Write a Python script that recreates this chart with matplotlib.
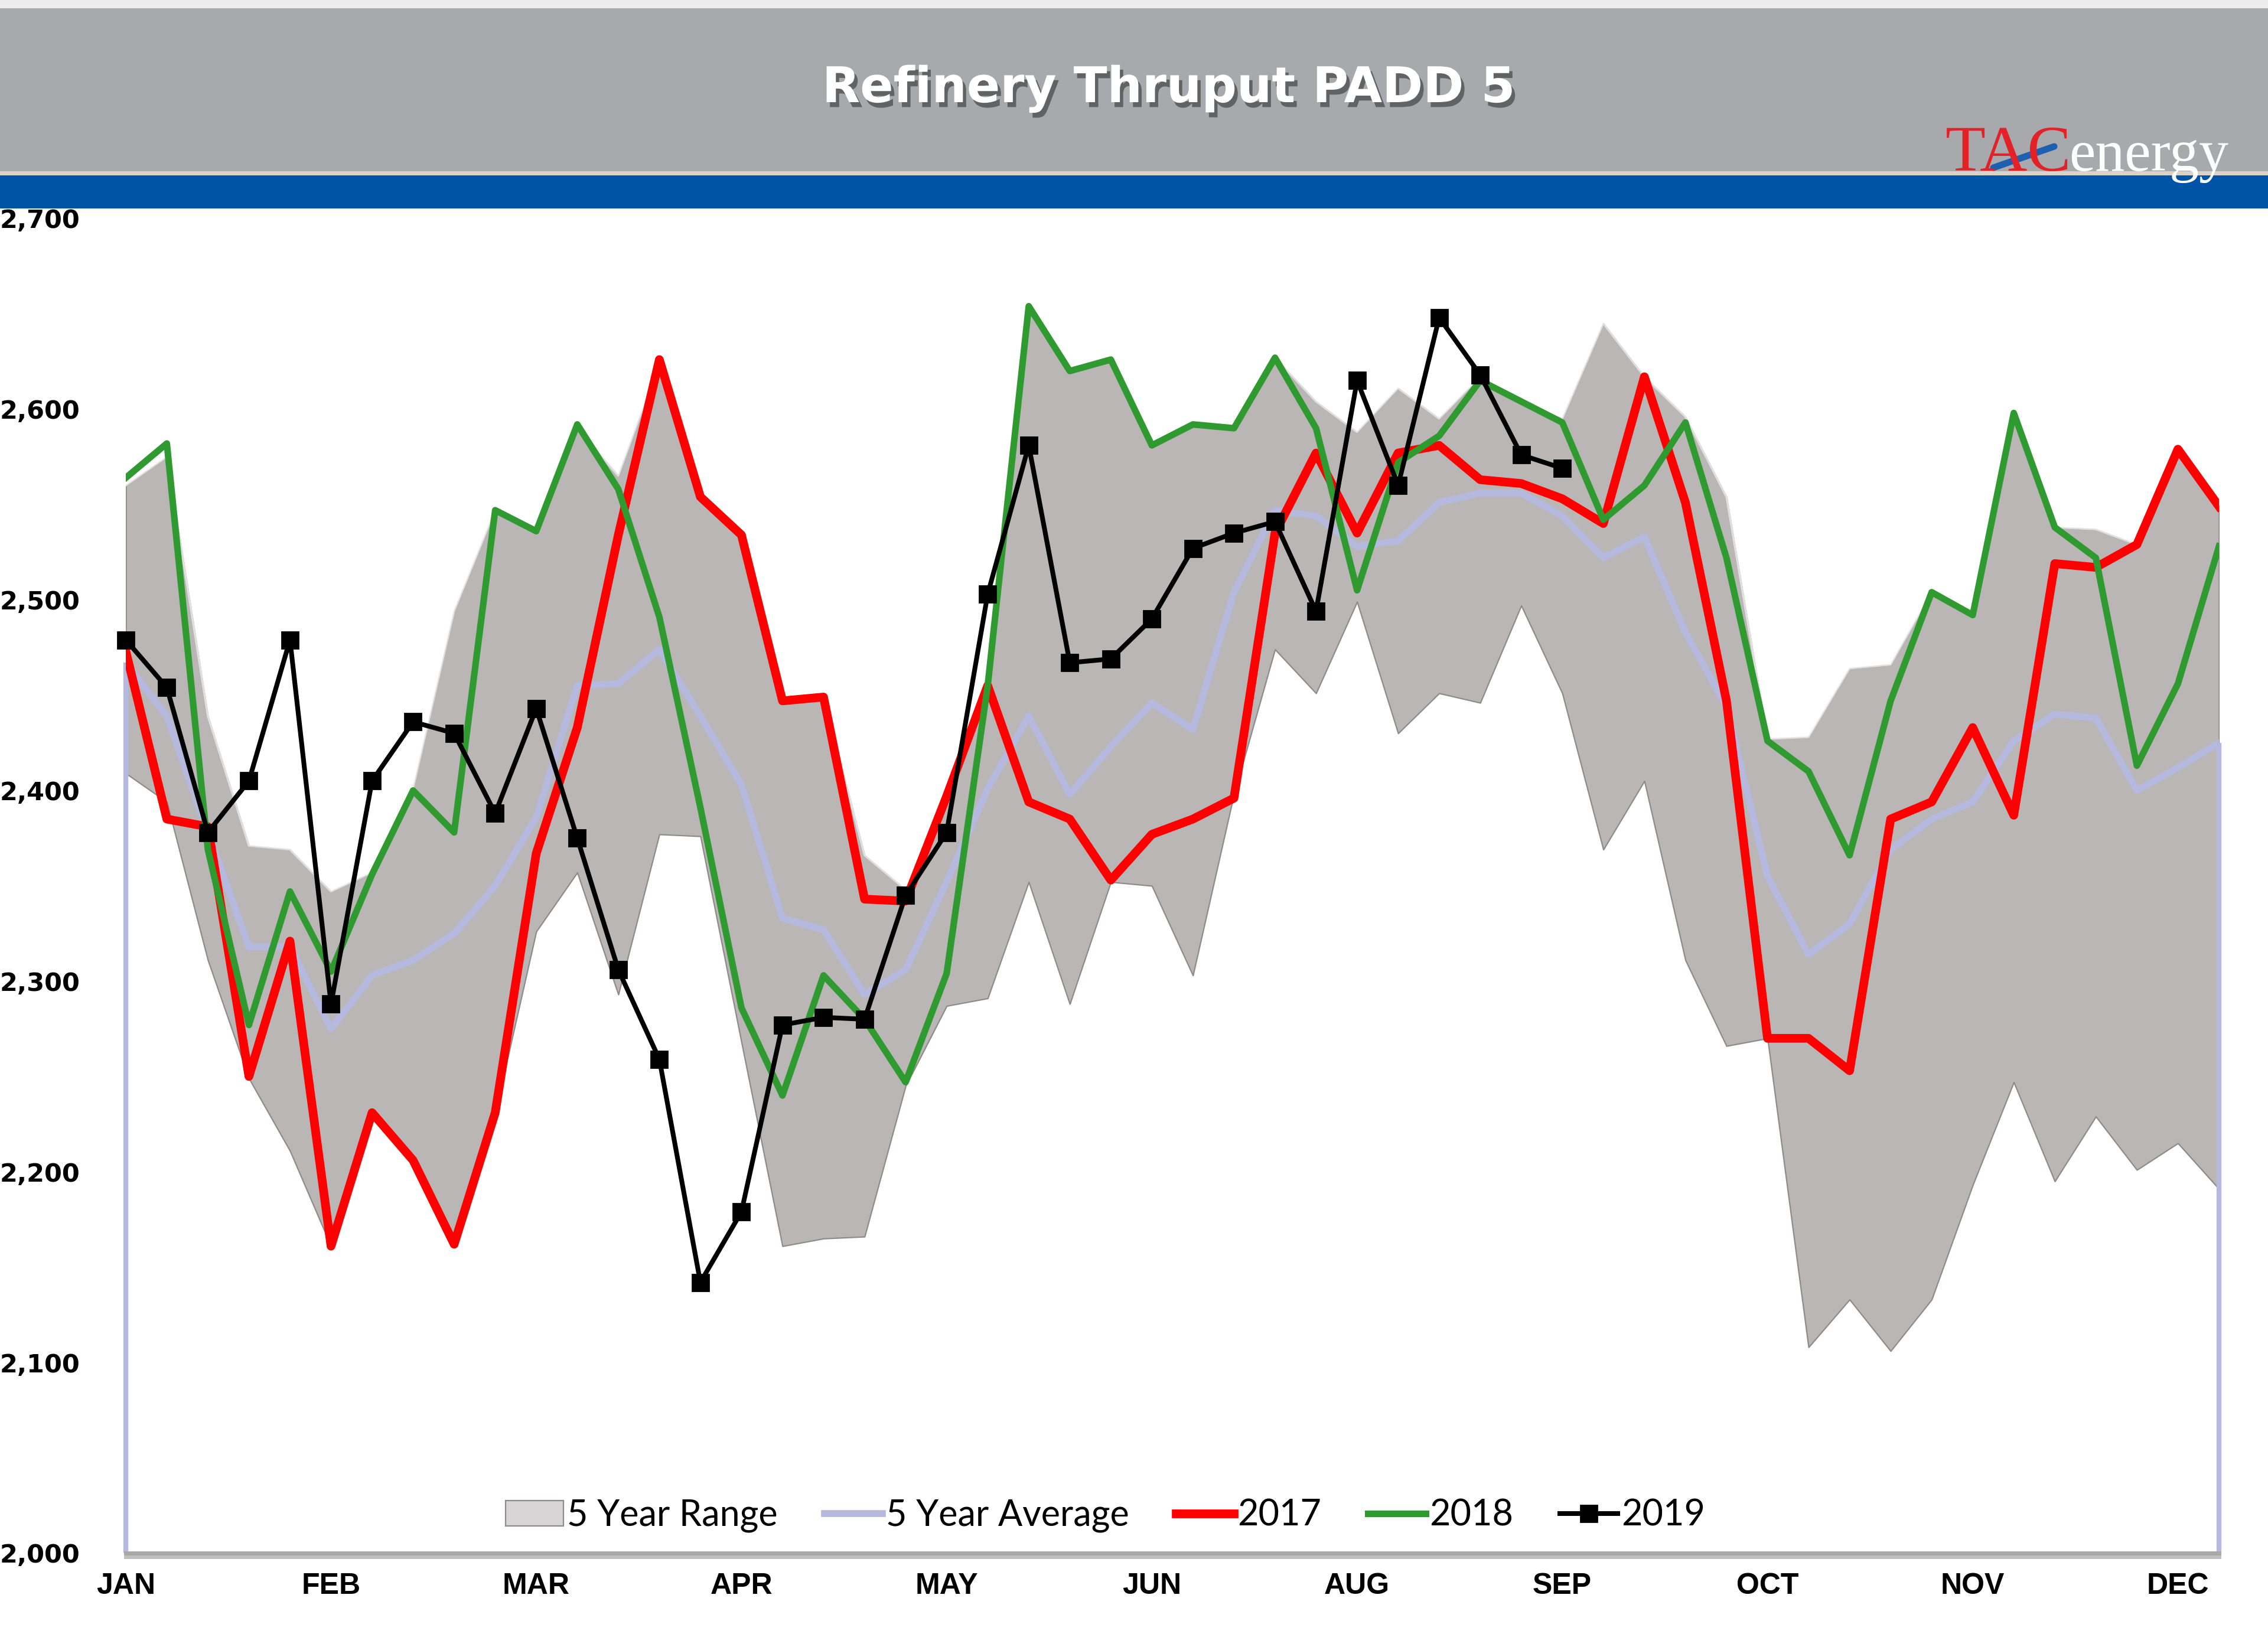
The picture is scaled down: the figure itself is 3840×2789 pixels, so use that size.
import numpy as np
import matplotlib.pyplot as plt
from matplotlib.patches import Rectangle, Patch
from matplotlib.lines import Line2D
import matplotlib.patheffects as pe

# weekly data, kb/d
weeks = np.arange(52)
month_ticks = [0, 5, 10, 15, 20, 25, 30, 35, 40, 45, 50]
month_labels = ['JAN', 'FEB', 'MAR', 'APR', 'MAY', 'JUN', 'AUG', 'SEP', 'OCT', 'NOV', 'DEC']
y_ticks = [2000, 2100, 2200, 2300, 2400, 2500, 2600, 2700]

range_high = [2560, 2575, 2439, 2371, 2369, 2347, 2357, 2401, 2494, 2547,
              2535, 2590, 2565, 2624, 2554, 2535, 2447, 2449, 2366, 2348,
              2400, 2455, 2654, 2620, 2626, 2581, 2592, 2590, 2627, 2604,
              2588, 2611, 2595, 2617, 2604, 2595, 2645, 2617, 2596, 2554,
              2427, 2428, 2464, 2466, 2504, 2493, 2599, 2538, 2537, 2529,
              2579, 2549]
range_low = [2409, 2394, 2311, 2249, 2211, 2161, 2231, 2206, 2162, 2231,
             2326, 2357, 2293, 2377, 2376, 2268, 2161, 2165, 2166, 2245,
             2287, 2291, 2352, 2288, 2352, 2350, 2303, 2398, 2474, 2451,
             2499, 2430, 2451, 2446, 2497, 2451, 2369, 2405, 2311, 2266,
             2270, 2108, 2133, 2106, 2133, 2193, 2247, 2195, 2229, 2201,
             2215, 2191]
avg_5yr = [2467, 2439, 2378, 2318, 2318, 2275, 2303, 2311, 2325, 2350,
           2386, 2455, 2456, 2474, 2439, 2403, 2333, 2327, 2293, 2306,
           2352, 2401, 2439, 2398, 2423, 2446, 2432, 2504, 2547, 2544,
           2528, 2531, 2551, 2556, 2556, 2544, 2522, 2533, 2483, 2444,
           2355, 2314, 2330, 2369, 2385, 2394, 2426, 2440, 2438, 2400,
           2412, 2425]
y2017 = [2473, 2385, 2381, 2250, 2321, 2161, 2231, 2206, 2162, 2231,
         2367, 2433, 2534, 2626, 2554, 2534, 2447, 2449, 2343, 2342,
         2397, 2455, 2394, 2385, 2353, 2377, 2385, 2396, 2535, 2577,
         2535, 2577, 2581, 2563, 2561, 2553, 2540, 2617, 2551, 2447,
         2270, 2270, 2253, 2385, 2394, 2433, 2387, 2519, 2517, 2529,
         2579, 2549]
y2018 = [2564, 2582, 2369, 2277, 2347, 2305, 2356, 2400, 2378, 2547,
         2536, 2592, 2558, 2491, 2391, 2286, 2240, 2303, 2280, 2247,
         2304, 2455, 2654, 2620, 2626, 2581, 2592, 2590, 2627, 2590,
         2505, 2572, 2586, 2615, 2604, 2593, 2542, 2560, 2593, 2522,
         2426, 2410, 2366, 2447, 2504, 2492, 2598, 2538, 2522, 2413,
         2456, 2528]
y2019 = [2479, 2454, 2378, 2405, 2479, 2288, 2405, 2436, 2430, 2388,
         2443, 2375, 2306, 2259, 2142, 2179, 2277, 2281, 2280, 2345,
         2378, 2503, 2581, 2467, 2469, 2490, 2527, 2535, 2541, 2494,
         2615, 2560, 2648, 2618, 2576, 2569]

W, H = 3840, 2789
fig = plt.figure(figsize=(W / 200, H / 200), dpi=200)
fig.patch.set_facecolor('white')

# plot area in pixel terms of the reference
left, right, top, bottom = 213, 3757, 370, 2630
ax = fig.add_axes([left / W, 1 - bottom / H, (right - left) / W, (bottom - top) / H])

range_col = '#bab6b6'
avg_col = '#b5b9de'

ax.fill_between(weeks, range_low, range_high, facecolor=range_col,
                edgecolor='#8f8b8b', linewidth=0.8, zorder=1)
ax.plot(weeks, range_high, color='#f4f4f4', lw=1.2, alpha=0.8, zorder=1.5)
ax.plot(weeks, avg_5yr, color=avg_col, lw=4.2, zorder=2, solid_joinstyle='round')
ax.vlines([weeks[0], weeks[-1]], 2000, [avg_5yr[0], avg_5yr[-1]],
          colors=avg_col, lw=3, zorder=2, clip_on=False)
ax.plot(weeks, y2017, color='#ff0000', lw=5.3, zorder=3, solid_joinstyle='round')
ax.plot(weeks, y2018, color='#2f9a2f', lw=4, zorder=4, solid_joinstyle='round')
ax.plot(weeks[:len(y2019)], y2019, color='black', lw=2.9, marker='s',
        markersize=10, zorder=5, clip_on=False)

ax.set_xlim(0, 51)
ax.set_ylim(2000, 2700)
ax.set_xticks(month_ticks)
ax.set_xticklabels(month_labels, fontsize=18, fontweight='bold', family='Liberation Sans')
ax.set_yticks(y_ticks)
ax.set_yticklabels([f'{v:,}' for v in y_ticks], fontsize=15.5, fontweight='bold',
                   family='DejaVu Sans')
ax.tick_params(axis='x', length=0, pad=12)
ax.tick_params(axis='y', length=0, pad=28)
for s in ['top', 'right', 'left']:
    ax.spines[s].set_visible(False)
ax.spines['bottom'].set_color('#a9a9a9')
ax.spines['bottom'].set_linewidth(2.5)
ax.spines['bottom'].set_path_effects([pe.SimpleLineShadow(offset=(0, -2), alpha=0.25), pe.Normal()])

handles = [
    Patch(facecolor='#d6d4d4', edgecolor='#8f8b8b', linewidth=0.8),
    Line2D([], [], color=avg_col, lw=4.2),
    Line2D([], [], color='#ff0000', lw=5.3),
    Line2D([], [], color='#2f9a2f', lw=4),
    Line2D([], [], color='black', lw=2.9, marker='s', markersize=10),
]
labels = ['5 Year Range', '5 Year Average', '2017', '2018', '2019']
ax.legend(handles, labels, loc='center', bbox_to_anchor=(0.468, 0.028), ncol=5,
          frameon=False, prop={'family': 'Lato', 'size': 22},
          handlelength=1.6, handletextpad=0.1, columnspacing=1.3)

# header band drawn over everything in pixel coordinates
hd = fig.add_axes([0, 0, 1, 1], zorder=10)
hd.set_xlim(0, W)
hd.set_ylim(H, 0)
hd.axis('off')
hd.patch.set_alpha(0)
hd.add_patch(Rectangle((0, 0), W, 14, color='#ececec', lw=0))
hd.add_patch(Rectangle((0, 14), W, 278, color='#a7a9ac', lw=0))
hd.add_patch(Rectangle((0, 290), W, 8, color='#d9d3c9', lw=0))
hd.add_patch(Rectangle((0, 297), W, 56, color='#0054a5', lw=0))

hd.text(1979, 150, 'Refinery Thruput PADD 5', color='white', fontsize=30,
        fontweight='bold', family='DejaVu Sans', ha='center', va='center',
        path_effects=[pe.withSimplePatchShadow(offset=(2, -3), shadow_rgbFace='#333333', alpha=0.6)])

hd.text(3507, 289, 'TAC', color='#e32227', fontsize=40, family='Liberation Serif',
        ha='right', va='baseline')
hd.text(3503, 289, 'energy', color='white', fontsize=36, family='Liberation Serif',
        ha='left', va='baseline')
hd.plot([3375, 3478], [284, 248], color='#1f5fb0', lw=4, solid_capstyle='round')

fig.savefig('out.png', dpi=200, facecolor='white')
